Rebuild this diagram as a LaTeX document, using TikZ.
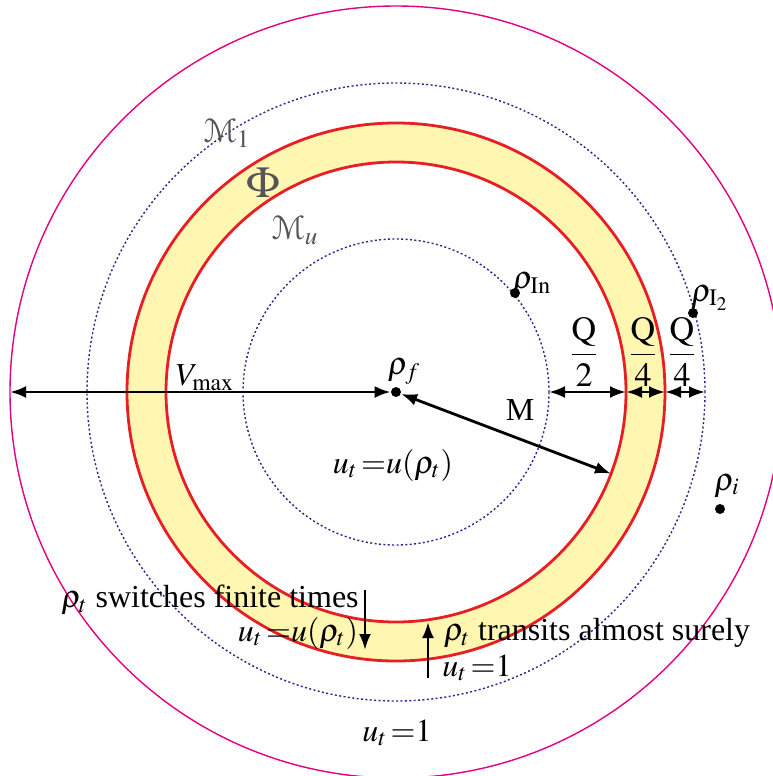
\documentclass[tikz,border=0pt]{standalone}
\usepackage{amsmath}
\usepackage{mathptmx}
\usepackage[mathcal]{eucal}
\usepackage{fontspec}
\setmainfont{Liberation Serif}
\usepackage{tikz}
\usetikzlibrary{arrows.meta,calc}
\definecolor{ringred}{RGB}{232,30,37}
\definecolor{ringfill}{RGB}{255,246,178}
\definecolor{limblue}{RGB}{40,40,140}
\definecolor{outerpink}{RGB}{228,0,127}
\definecolor{setgray}{RGB}{85,85,85}
\newcommand{\ueq}[2]{$#1\,{=}#2$}

\begin{document}
\begin{tikzpicture}[x=0.5pt, y=-0.5pt,
  lbl/.style={font=\fontsize{16}{19}\selectfont, inner sep=0pt},
  setlbl/.style={text=setgray, font=\fontsize{17}{20}\selectfont, inner sep=0pt},
  arr/.style={line width=1.4pt, -{Latex[length=8pt,width=6pt]}},
  dbl/.style={line width=1.4pt, {Latex[length=8pt,width=6pt]}-{Latex[length=8pt,width=6pt]}},
  dot/.style={circle, fill, inner sep=0pt, minimum size=5pt},
  lim/.style={draw=limblue, line width=0.7pt, dash pattern=on 1pt off 1.2pt}]
\useasboundingbox (0,0) rectangle (772,776);
\coordinate (c) at (396,392);

% rings
\fill[ringfill, even odd rule] (c) circle[radius=134.5pt] (c) circle[radius=115pt];
\draw[ringred, line width=1.4pt] (c) circle[radius=134.5pt] (c) circle[radius=115pt];
\draw[lim] (c) circle[radius=154.5pt] (c) circle[radius=76.5pt];
\draw[outerpink, line width=0.7pt] (c) circle[radius=193pt];

% states
\node[dot] (f) at (c) {};
\node[dot] (in) at (515,293) {};
\node[dot] (i2) at (693,313) {};
\node[dot] (ri) at (720,509) {};
\node[lbl] (fl) at (404,372) {$\rho_f$};
\node[lbl] (inl) at (532,284) {$\rho_{\mathrm{In}}$};
\node[lbl] (i2l) at (710,298) {$\rho_{\mathrm{I}_2}$};
\node[lbl] (ril) at (727,486) {$\rho_i$};

% set names
\node[setlbl] (m1) at (227,133) {$\mathcal{M}_1$};
\node[setlbl, font=\fontsize{22}{24}\selectfont] (phi) at (263,183) {$\Phi$};
\node[setlbl] (mu) at (295,230) {$\mathcal{M}_u$};

% distances
\coordinate (vl) at (10,392);
\coordinate (mi) at ($(c)+(-20.8:115pt)$);
\coordinate (q0) at (549,392);
\coordinate (q1) at (626,392);
\coordinate (q2) at (665,392);
\coordinate (q3) at (705,392);
\draw[dbl] (vl) -- (f);
\draw[dbl] (f) -- (mi);
\draw[dbl] (q0) -- (q1);
\draw[dbl] (q1) -- (q2);
\draw[dbl] (q2) -- (q3);
\node[lbl] (vmax) at (205,378) {$V_{\mathrm{max}}$};
\node[lbl] (ml) at (520,410) {M};
\node[lbl, font=\fontsize{17}{20}\selectfont] (qh) at (584,352) {$\dfrac{\mathrm{Q}}{2}$};
\node[lbl, font=\fontsize{17}{20}\selectfont] (qa) at (643,352) {$\dfrac{\mathrm{Q}}{4}$};
\node[lbl, font=\fontsize{17}{20}\selectfont] (qb) at (682,352) {$\dfrac{\mathrm{Q}}{4}$};

% controls
\node[lbl] (uin) at (393,465) {\ueq{u_t}{u(\rho_t)}};
\node[lbl] (sw) at (210,600) {$\rho_t$ switches finite times};
\node[lbl] (usw) at (298,633) {\ueq{u_t}{u(\rho_t)}};
\node[lbl] (tr) at (597,633) {$\rho_t$ transits almost surely};
\node[lbl] (utr) at (477,668) {\ueq{u_t}{1}};
\node[lbl] (uout) at (397,733) {\ueq{u_t}{1}};
\coordinate (swa) at (365,590);
\coordinate (swb) at (365,650);
\coordinate (tra) at (428,678);
\coordinate (trb) at (428,622);
\draw[arr] (swa) -- (swb);
\draw[arr] (tra) -- (trb);
\end{tikzpicture}
\end{document}
